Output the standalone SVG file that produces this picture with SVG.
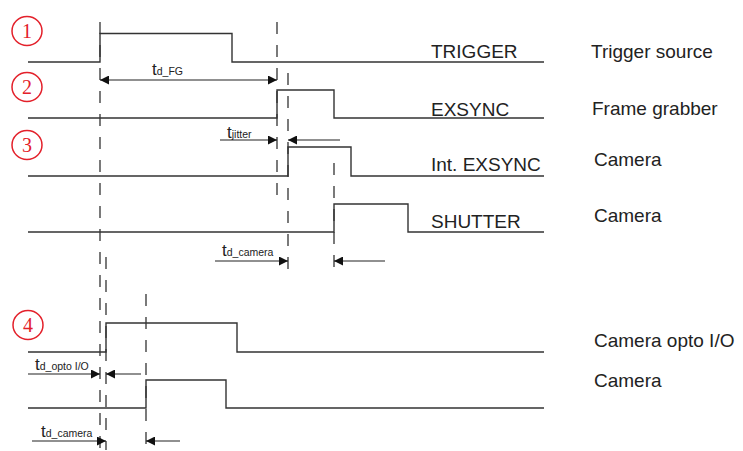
<svg xmlns="http://www.w3.org/2000/svg" width="743" height="451" viewBox="0 0 743 451">
<defs>
<style>
.sig{fill:none;stroke:#333;stroke-width:1.4}
.dash{fill:none;stroke:#333;stroke-width:1.3;stroke-dasharray:12 11}
.arr{fill:none;stroke:#222;stroke-width:1.2}
.num{fill:none;stroke:#e3202a;stroke-width:1.5}
.numt{font-family:"Liberation Serif",serif;font-size:20px;fill:#e3202a;text-anchor:middle}
.lbl{font-family:"Liberation Sans",Arial,sans-serif;font-size:19px;fill:#222}
.t{font-family:"Liberation Sans",Arial,sans-serif;font-size:17px;fill:#222}
.sub{font-size:10.5px}
</style>
<marker id="ah" viewBox="0 0 10 10" refX="10" refY="5" markerWidth="10" markerHeight="9" markerUnits="userSpaceOnUse" orient="auto-start-reverse">
<path d="M0,0 L10,5 L0,10 z" fill="#111"/>
</marker>
</defs>
<rect width="743" height="451" fill="#fff"/>

<g id="markers">
<g id="m1"><ellipse class="num" cx="27" cy="31" rx="15" ry="14.5"/><text class="numt" x="27" y="38">1</text></g>
<g id="m2"><ellipse class="num" cx="27" cy="87" rx="15" ry="14.5"/><text class="numt" x="27" y="94">2</text></g>
<g id="m3"><ellipse class="num" cx="27" cy="145" rx="15" ry="14.5"/><text class="numt" x="27" y="152">3</text></g>
<g id="m4"><ellipse class="num" cx="28" cy="325" rx="15" ry="14.5"/><text class="numt" x="28" y="332">4</text></g>
</g>

<g id="signals">
<g id="trigger"><path class="sig" d="M28,62 H100 V33.5 H232 V62 H544"/><text class="lbl" x="431" y="58">TRIGGER</text><text class="lbl" x="591" y="58">Trigger source</text></g>
<g id="exsync"><path class="sig" d="M28,118 H277 V90 H334 V118 H544"/><text class="lbl" x="431" y="116">EXSYNC</text><text class="lbl" x="592" y="115">Frame grabber</text></g>
<g id="intexsync"><path class="sig" d="M28,176 H288 V147 H351 V176 H544"/><text class="lbl" x="431" y="171">Int. EXSYNC</text><text class="lbl" x="594" y="166">Camera</text></g>
<g id="shutter"><path class="sig" d="M28,232 H334 V204 H408 V232 H544"/><text class="lbl" x="431" y="228">SHUTTER</text><text class="lbl" x="594" y="222">Camera</text></g>
<g id="opto"><path class="sig" d="M28,352 H106 V323 H237 V352 H544"/><text class="lbl" x="594" y="347">Camera opto I/O</text></g>
<g id="camera"><path class="sig" d="M28,408 H146 V380 H226 V408 H544"/><text class="lbl" x="594" y="387">Camera</text></g>
</g>

<g id="connectors">
<line class="dash" x1="100" y1="22" x2="100" y2="450"/>
<line class="dash" x1="277" y1="22" x2="277" y2="204"/>
<line class="dash" x1="288" y1="73" x2="288" y2="277"/>
<line class="dash" x1="334" y1="163" x2="334" y2="272"/>
<line class="dash" x1="106" y1="257" x2="106" y2="450"/>
<line class="dash" x1="146" y1="294" x2="146" y2="450"/>

<line class="arr" x1="100" y1="80" x2="277" y2="80" marker-start="url(#ah)" marker-end="url(#ah)"/>
<line class="arr" x1="220" y1="140" x2="277" y2="140" marker-end="url(#ah)"/>
<line class="arr" x1="340" y1="140" x2="288" y2="140" marker-end="url(#ah)"/>
<line class="arr" x1="215" y1="261" x2="288" y2="261" marker-end="url(#ah)"/>
<line class="arr" x1="385" y1="261" x2="334" y2="261" marker-end="url(#ah)"/>
<line class="arr" x1="28" y1="374" x2="100" y2="374" marker-end="url(#ah)"/>
<line class="arr" x1="141" y1="374" x2="106" y2="374" marker-end="url(#ah)"/>
<line class="arr" x1="32" y1="441" x2="106" y2="441" marker-end="url(#ah)"/>
<line class="arr" x1="180" y1="441" x2="146" y2="441" marker-end="url(#ah)"/>
</g>

<g id="labels">
<text class="t" x="152" y="75">t<tspan class="sub">d_FG</tspan></text>
<text class="t" x="227" y="138">t<tspan class="sub">jitter</tspan></text>
<text class="t" x="222" y="256">t<tspan class="sub">d_camera</tspan></text>
<text class="t" x="35" y="370">t<tspan class="sub">d_opto I/O</tspan></text>
<text class="t" x="41" y="437">t<tspan class="sub">d_camera</tspan></text>
</g>
</svg>
